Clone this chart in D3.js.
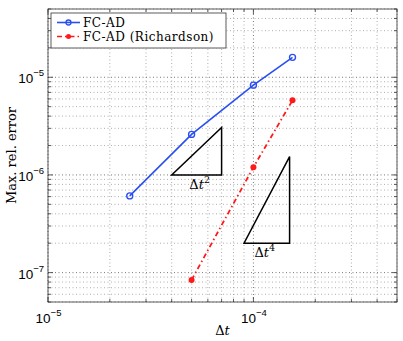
<!DOCTYPE html>
<html>
<head>
<meta charset="utf-8">
<script src="https://cdn.jsdelivr.net/npm/d3@7"></script>
<style>
  body { margin: 0; background: #fff; }
  svg { display: block; }
</style>
</head>
<body>
<svg id="fig" width="403" height="341"></svg>
<script>
// data
const dtFC = [2.5e-5, 5e-5, 1e-4, 1.55e-4];
const errFC = [6.1e-7, 2.6e-6, 8.3e-6, 1.6e-5];
const dtRich = [5e-5, 1e-4, 1.55e-4];
const errRich = [8.4e-8, 1.2e-6, 5.8e-6];

// slope triangles: [x0, x1], [ybottom, ytop]
const tri2X = [4e-5, 7e-5], tri2Y = [1e-6, 3.06e-6];
const tri4X = [9e-5, 1.5e-4], tri4Y = [2e-7, 1.54e-6];

const xDecades = [-5, -4];
const yDecades = [-7, -6, -5];

const margin = { left: 48, right: 6, top: 9, bottom: 39 };
const W = 403, H = 341;

const x = d3.scaleLog().domain([1e-5, 5e-4]).range([margin.left, W - margin.right]);
const y = d3.scaleLog().domain([5e-8, 5e-5]).range([H - margin.bottom, margin.top]);

const svg = d3.select("#fig");
const x0 = x.range()[0], x1 = x.range()[1];
const y0 = y.range()[0], y1 = y.range()[1];

// all log ticks (major + minor)
function logTicks(dom) {
  const out = [];
  const lo = Math.floor(Math.log10(dom[0])), hi = Math.ceil(Math.log10(dom[1]));
  for (let e = lo; e <= hi; e++) {
    for (let m = 1; m <= 9; m++) {
      const v = m * Math.pow(10, e);
      if (v >= dom[0] * 0.9999 && v <= dom[1] * 1.0001) out.push({ v, major: m === 1 });
    }
  }
  return out;
}
const xt = logTicks(x.domain());
const yt = logTicks(y.domain());

// grid
const grid = svg.append("g");
grid.selectAll(".gx").data(xt).join("line")
  .attr("x1", d => x(d.v)).attr("x2", d => x(d.v))
  .attr("y1", y0).attr("y2", y1)
  .attr("stroke", d => d.major ? "#555" : "#999")
  .attr("stroke-width", 0.8)
  .attr("stroke-dasharray", "1,2.5");
grid.selectAll(".gy").data(yt).join("line")
  .attr("y1", d => y(d.v)).attr("y2", d => y(d.v))
  .attr("x1", x0).attr("x2", x1)
  .attr("stroke", d => d.major ? "#555" : "#999")
  .attr("stroke-width", 0.8)
  .attr("stroke-dasharray", "1,2.5");

// ticks on all four sides, pointing inward
const ticks = svg.append("g").attr("stroke", "#333").attr("stroke-width", 0.8);
xt.forEach(d => {
  const L = d.major ? 5 : 3;
  ticks.append("line").attr("x1", x(d.v)).attr("x2", x(d.v)).attr("y1", y0).attr("y2", y0 - L);
  ticks.append("line").attr("x1", x(d.v)).attr("x2", x(d.v)).attr("y1", y1).attr("y2", y1 + L);
});
yt.forEach(d => {
  const L = d.major ? 5 : 3;
  ticks.append("line").attr("y1", y(d.v)).attr("y2", y(d.v)).attr("x1", x0).attr("x2", x0 + L);
  ticks.append("line").attr("y1", y(d.v)).attr("y2", y(d.v)).attr("x1", x1).attr("x2", x1 - L);
});

// frame
svg.append("rect")
  .attr("x", x0).attr("y", y1)
  .attr("width", x1 - x0).attr("height", y0 - y1)
  .attr("fill", "none").attr("stroke", "#333").attr("stroke-width", 0.8);

// tick labels 10^e
function powLabel(sel, e) {
  sel.append("tspan").text("10");
  sel.append("tspan").attr("dy", -7).attr("font-size", 9.5).text("\u2212" + Math.abs(e));
}
const sans = "Liberation Sans, Arial, sans-serif";
xDecades.forEach(e => {
  const t = svg.append("text")
    .attr("x", x(Math.pow(10, e)) + 0.5).attr("y", 323)
    .attr("text-anchor", "middle")
    .attr("font-family", sans)
    .attr("font-size", 13.5).attr("fill", "#000");
  powLabel(t, e);
});
yDecades.forEach(e => {
  const t = svg.append("text")
    .attr("x", 44).attr("y", y(Math.pow(10, e)) + 6)
    .attr("text-anchor", "end")
    .attr("font-family", sans)
    .attr("font-size", 13.5).attr("fill", "#000");
  powLabel(t, e);
});

// axis labels
const serif = "DejaVu Serif, Liberation Serif, serif";
svg.append("text")
  .attr("x", (x0 + x1) / 2).attr("y", 335)
  .attr("text-anchor", "middle")
  .attr("font-family", serif).attr("font-size", 13)
  .html('\u0394<tspan font-style="italic">t</tspan>');
svg.append("text")
  .attr("transform", `translate(16, ${(y0 + y1) / 2}) rotate(-90)`)
  .attr("text-anchor", "middle")
  .attr("font-family", serif).attr("font-size", 13)
  .text("Max. rel. error");

// slope triangles
const triLine = d3.line();
function triangle(X, Y) {
  const pts = [[x(X[0]), y(Y[0])], [x(X[1]), y(Y[0])], [x(X[1]), y(Y[1])], [x(X[0]), y(Y[0])]];
  svg.append("path").attr("d", triLine(pts) + "Z")
    .attr("fill", "none").attr("stroke", "#000").attr("stroke-width", 1.5)
    .attr("stroke-linejoin", "miter");
}
triangle(tri2X, tri2Y);
triangle(tri4X, tri4Y);

function triLabel(X, Y, p, dx) {
  const t = svg.append("text")
    .attr("x", (x(X[0]) + x(X[1])) / 2 + dx).attr("y", y(Y[0]) + 14)
    .attr("text-anchor", "middle")
    .attr("font-family", serif).attr("font-size", 13);
  t.append("tspan").text("\u0394");
  t.append("tspan").attr("font-style", "italic").text("t");
  t.append("tspan").attr("dy", -6).attr("font-size", 9.5).text(p);
}
triLabel(tri2X, tri2Y, "2", 3);
triLabel(tri4X, tri4Y, "4", -2);

// series
const blue = "#2a4ff0", red = "#ff1a1a";
const line = d3.line().x(d => x(d[0])).y(d => y(d[1]));
const fc = dtFC.map((d, i) => [d, errFC[i]]);
const rich = dtRich.map((d, i) => [d, errRich[i]]);

svg.append("path").datum(fc).attr("d", line)
  .attr("fill", "none").attr("stroke", blue).attr("stroke-width", 1.6);
svg.selectAll(".mfc").data(fc).join("circle")
  .attr("cx", d => x(d[0])).attr("cy", d => y(d[1])).attr("r", 3)
  .attr("fill", "none").attr("stroke", blue).attr("stroke-width", 1.4);

svg.append("path").datum(rich).attr("d", line)
  .attr("fill", "none").attr("stroke", red).attr("stroke-width", 1.8)
  .attr("stroke-dasharray", "5,3,1.5,3");
svg.selectAll(".mr").data(rich).join("circle")
  .attr("cx", d => x(d[0])).attr("cy", d => y(d[1])).attr("r", 3)
  .attr("fill", red);

// legend
const lg = svg.append("g").attr("transform", "translate(51,13)");
lg.append("rect").attr("width", 175).attr("height", 35)
  .attr("fill", "#fff").attr("stroke", "#333").attr("stroke-width", 0.8);
const legendItems = [
  { name: "FC-AD", color: blue, dash: null, open: true },
  { name: "FC-AD (Richardson)", color: red, dash: "5,3,1.5,3", open: false }
];
legendItems.forEach((d, i) => {
  const cy = 9.5 + i * 14;
  lg.append("line").attr("x1", 6).attr("x2", 29).attr("y1", cy).attr("y2", cy)
    .attr("stroke", d.color).attr("stroke-width", d.open ? 1.6 : 1.4)
    .attr("stroke-dasharray", d.dash);
  lg.append("circle").attr("cx", 17.5).attr("cy", cy).attr("r", 2.5)
    .attr("fill", d.open ? "none" : d.color)
    .attr("stroke", d.open ? d.color : "none").attr("stroke-width", 1.3);
  lg.append("text").attr("x", 32).attr("y", cy + 4)
    .attr("font-family", serif).attr("font-size", 12)
    .attr("letter-spacing", 0.5)
    .text(d.name);
});
</script>
</body>
</html>
